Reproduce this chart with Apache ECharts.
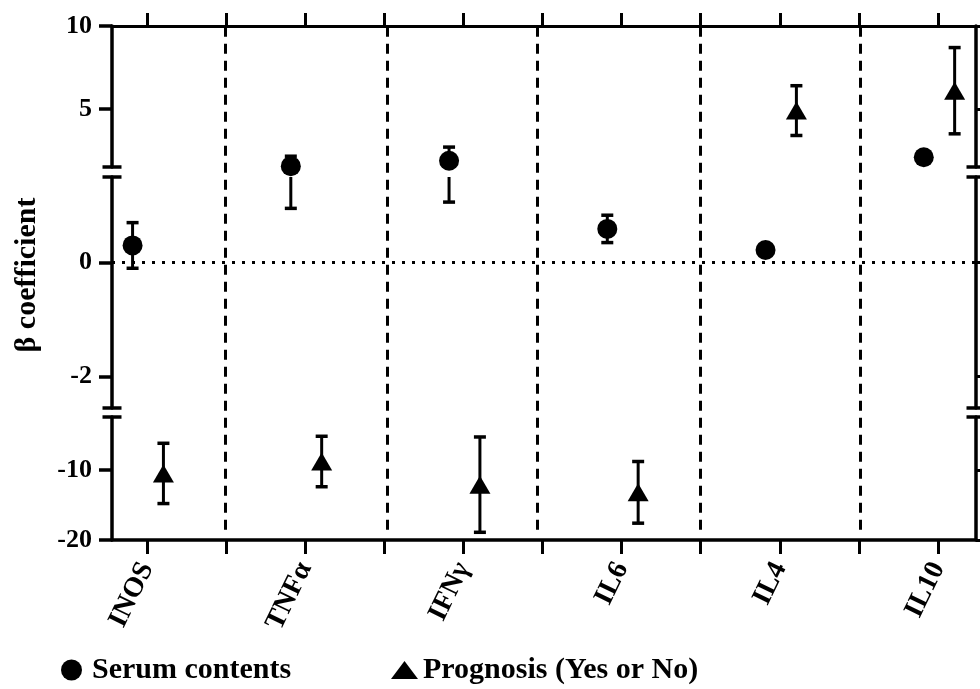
<!DOCTYPE html>
<html>
<head>
<meta charset="utf-8">
<script src="https://cdn.jsdelivr.net/npm/echarts@6/dist/echarts.min.js"></script>
<style>
html, body { margin: 0; padding: 0; background: #fff; }
#main { width: 980px; height: 689px; }
</style>
</head>
<body>
<div id="main"></div>
<script>
// 数据
var categories = ['INOS', 'TNFα', 'IFNγ', 'IL6', 'IL4', 'IL10'];
var serumMean = [0.30, 1.55, 1.88, 0.59, 0.22, 2.09];
var serumErr = [0.40, 0.60, 0.82, 0.24, 0, 0];
var progMean = [-10.5, -8.8, -12.1, -13.2, 4.9, 6.1];
var progErr = [4.3, 3.6, 6.8, 4.4, 1.5, 2.6];
var dividers = [1.495, 2.52, 3.47, 4.495, 5.51];
// 断轴的三段 [min, max]，从上到下
var segments = [[1.5, 10], [-2.55, 1.5], [-20, -2.45]];
var yTicks = [[5, 10], [-2, 0], [-20, -10]];
var xTicks = [1, 1.5, 2, 2.5, 3, 3.5, 4, 4.5, 5, 5.5, 6];

(function() {
    var myChart = echarts.init(document.getElementById('main'));
    var font = 'Liberation Serif';
    var xMin = 0.78, xMax = 6.24;
    var gridBoxes = [[26, 141], [177, 231], [417, 123]];
    var capSymbols = [['rect', 'none'], ['rect', 'rect'], ['none', 'rect']];

    function cap(p) {
        return {
            type: 'line',
            shape: { x1: p[0] - 6, y1: p[1], x2: p[0] + 6, y2: p[1] },
            style: { stroke: '#000', lineWidth: 3.5 }
        };
    }

    // 误差棒，按每段的范围裁剪
    function errorBars(seg) {
        var min = segments[seg][0], max = segments[seg][1];
        return function(params, api) {
            var x = api.value(0), lo = api.value(1), hi = api.value(2);
            if (hi <= lo || hi < min || lo > max) return;
            var a = api.coord([x, Math.max(lo, min)]);
            var b = api.coord([x, Math.min(hi, max)]);
            var children = [{
                type: 'line',
                shape: { x1: a[0], y1: a[1], x2: b[0], y2: b[1] },
                style: { stroke: '#000', lineWidth: 3 }
            }];
            if (lo >= min) children.push(cap(a));
            if (hi <= max) children.push(cap(b));
            return { type: 'group', children: children };
        };
    }

    function inSeg(v, s) {
        return v >= segments[s][0] && v <= segments[s][1];
    }

    var grid = [], xAxis = [], yAxis = [], series = [];

    segments.forEach(function(seg, s) {
        grid.push({ left: 112, right: 4, top: gridBoxes[s][0], height: gridBoxes[s][1] });
        xAxis.push({ type: 'value', gridIndex: s, min: xMin, max: xMax, show: false });
    });
    // 整体网格，用来画上下x轴、虚线和y轴标题
    grid.push({ left: 112, right: 4, top: 26, height: 514 });
    xAxis.push({
        type: 'value', gridIndex: 3, position: 'top', min: xMin, max: xMax,
        axisLine: { onZero: false, lineStyle: { color: '#000', width: 3 } },
        axisTick: { show: true, customValues: xTicks, length: 13, lineStyle: { color: '#000', width: 3 } },
        axisLabel: { show: false },
        splitLine: { show: false }
    });
    xAxis.push({
        type: 'value', gridIndex: 3, position: 'bottom', min: xMin, max: xMax,
        axisLine: { onZero: false, lineStyle: { color: '#000', width: 3.5 } },
        axisTick: { show: true, customValues: xTicks, length: 14, lineStyle: { color: '#000', width: 3 } },
        axisLabel: {
            customValues: [1, 2, 3, 4, 5, 6],
            formatter: function(v) { return categories[Math.round(v) - 1]; },
            rotate: 64,
            margin: 24,
            color: '#000',
            fontFamily: font,
            fontWeight: 'bold',
            fontSize: 28
        },
        splitLine: { show: false }
    });

    // 左侧y轴（三段）
    segments.forEach(function(seg, s) {
        yAxis.push({
            type: 'value', gridIndex: s, position: 'left', min: seg[0], max: seg[1],
            axisLine: {
                show: true,
                onZero: false,
                symbol: capSymbols[s],
                symbolSize: [19, 3.5],
                lineStyle: { color: '#000', width: 3.5 }
            },
            axisTick: { show: true, customValues: yTicks[s], length: 13, lineStyle: { color: '#000', width: 3.5 } },
            axisLabel: {
                customValues: yTicks[s],
                margin: 20,
                color: '#000',
                fontFamily: font,
                fontWeight: 'bold',
                fontSize: 26
            },
            splitLine: { show: false }
        });
    });
    // 右侧y轴（三段）
    segments.forEach(function(seg, s) {
        yAxis.push({
            type: 'value', gridIndex: s, position: 'right', min: seg[0], max: seg[1],
            axisLine: {
                show: true,
                onZero: false,
                symbol: capSymbols[s],
                symbolSize: [19, 3.5],
                lineStyle: { color: '#000', width: 3.5 }
            },
            axisTick: { show: true, customValues: yTicks[s], length: 13, lineStyle: { color: '#000', width: 3 } },
            axisLabel: { show: false },
            splitLine: { show: false }
        });
    });
    yAxis.push({
        type: 'value', gridIndex: 3, min: 0, max: 1, position: 'left',
        axisLine: { show: false }, axisTick: { show: false }, axisLabel: { show: false },
        splitLine: { show: false },
        name: 'β coefficient',
        nameLocation: 'middle',
        nameGap: 70,
        nameTextStyle: { color: '#000', fontFamily: font, fontWeight: 'bold', fontSize: 30, padding: [0, 0, 0, 16] }
    });

    segments.forEach(function(seg, s) {
        var serumBars = [], progBars = [], serumPts = [], progPts = [];
        categories.forEach(function(c, i) {
            var xs = i + 1 - 0.09, xp = i + 1 + 0.105;
            serumBars.push([xs, serumMean[i] - serumErr[i], serumMean[i] + serumErr[i]]);
            progBars.push([xp, progMean[i] - progErr[i], progMean[i] + progErr[i]]);
            if (inSeg(serumMean[i], s)) serumPts.push([xs, serumMean[i]]);
            if (inSeg(progMean[i], s)) progPts.push([xp, progMean[i]]);
        });
        series.push({
            type: 'custom', xAxisIndex: s, yAxisIndex: s, renderItem: errorBars(s),
            data: serumBars, z: 2, silent: true
        });
        series.push({
            type: 'custom', xAxisIndex: s, yAxisIndex: s, renderItem: errorBars(s),
            data: progBars, z: 2, silent: true
        });
        var serumSeries = {
            name: 'Serum contents', type: 'scatter', xAxisIndex: s, yAxisIndex: s,
            symbol: 'circle', symbolSize: 20, clip: false, z: 3,
            itemStyle: { color: '#000', opacity: 1 },
            data: serumPts
        };
        if (s === 1) {
            // 0 处的点线
            serumSeries.markLine = {
                silent: true, symbol: 'none', label: { show: false },
                lineStyle: { color: '#000', width: 3, type: [3, 7] },
                data: [{ yAxis: 0 }]
            };
        }
        series.push(serumSeries);
        series.push({
            name: 'Prognosis (Yes or No)', type: 'scatter', xAxisIndex: s, yAxisIndex: s,
            symbol: 'triangle', symbolSize: [21, 18], clip: false, z: 3,
            itemStyle: { color: '#000', opacity: 1 },
            data: progPts
        });
    });

    // 分隔虚线
    series.push({
        type: 'scatter', xAxisIndex: 3, yAxisIndex: 6, data: [], silent: true,
        markLine: {
            silent: true, symbol: 'none', label: { show: false },
            lineStyle: { color: '#000', width: 3, type: [10, 7] },
            data: dividers.map(function(d) {
                return [{ coord: [d, 0.02] }, { coord: [d, 1] }];
            })
        }
    });

    var legendText = { color: '#000', fontFamily: font, fontWeight: 'bold', fontSize: 30 };
    var option = {
        animation: false,
        backgroundColor: '#fff',
        grid: grid,
        xAxis: xAxis,
        yAxis: yAxis,
        legend: [{
            left: 61, top: 655, itemWidth: 21, itemHeight: 24, itemGap: 0,
            textStyle: Object.assign({ padding: [0, 0, 0, 5] }, legendText), padding: 0,
            itemStyle: { opacity: 1 },
            data: [{ name: 'Serum contents', icon: 'circle' }]
        }, {
            left: 391, top: 655, itemWidth: 27, itemHeight: 18, itemGap: 0,
            textStyle: legendText, padding: 0,
            itemStyle: { opacity: 1 },
            data: [{ name: 'Prognosis (Yes or No)', icon: 'triangle' }]
        }],
        series: series
    };
    myChart.setOption(option);
})();
</script>
</body>
</html>
